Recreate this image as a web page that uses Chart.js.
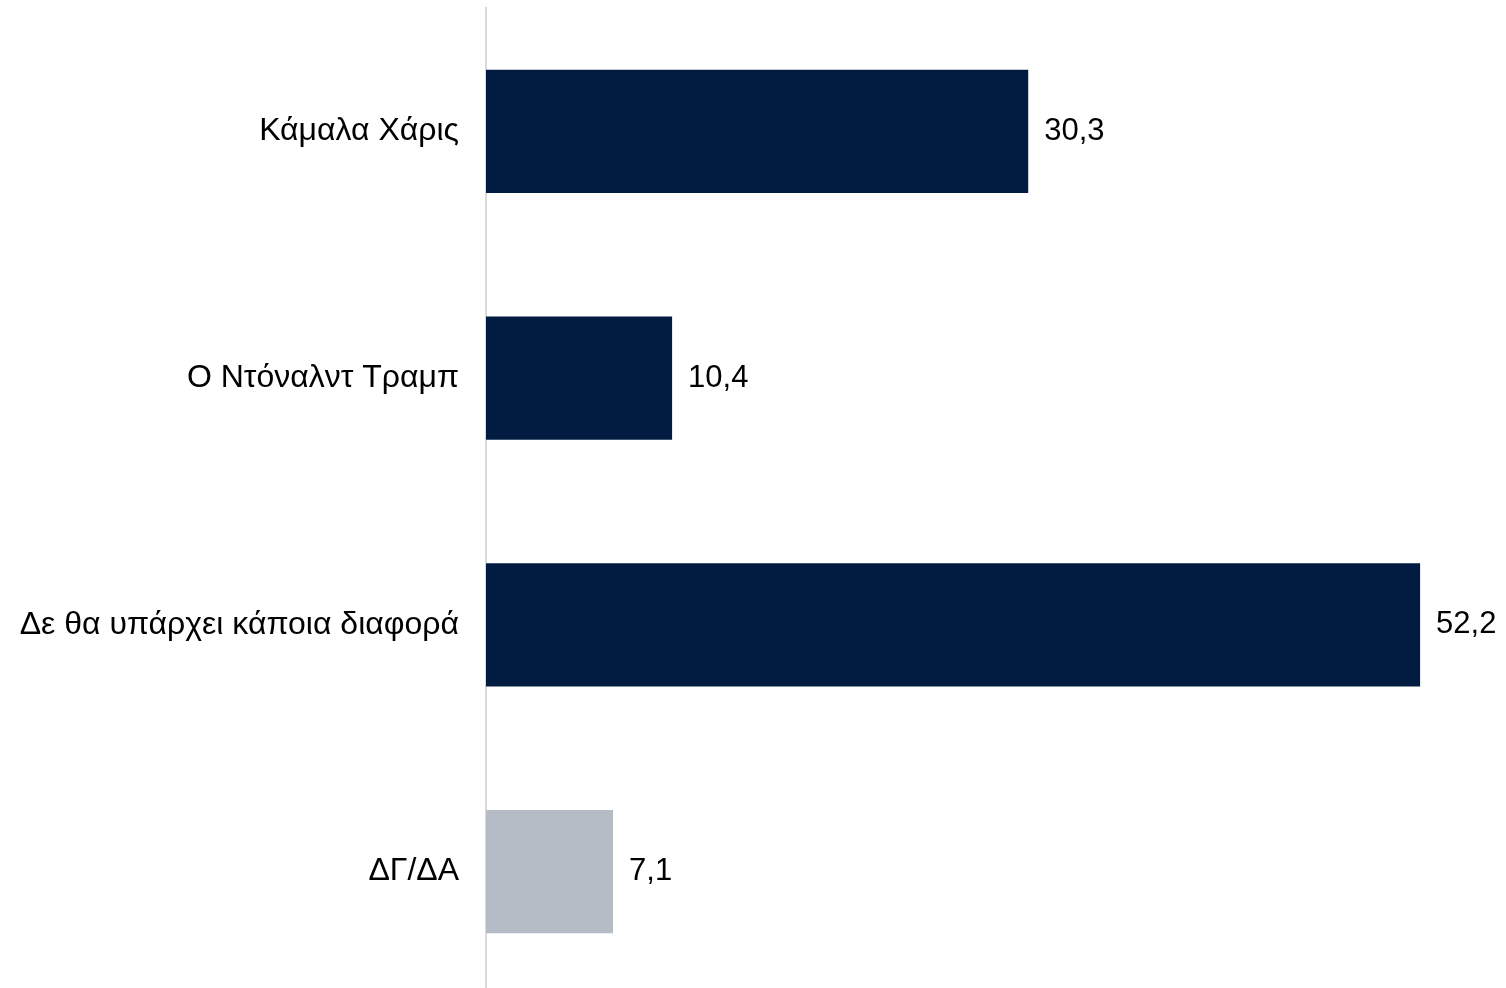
<!DOCTYPE html>
<html>
<head>
<meta charset="utf-8">
<script src="https://cdn.jsdelivr.net/npm/chart.js@4"></script>
<style>
  html, body { margin: 0; padding: 0; background: #ffffff; overflow: hidden; }
  #wrap { position: relative; width: 1506px; height: 995px; }
</style>
</head>
<body>
<div id="wrap"><canvas id="chart"></canvas></div>
<script>
// Δεδομένα γραφήματος
const categories = ["Κάμαλα Χάρις", "Ο Ντόναλντ Τραμπ", "Δε θα υπάρχει κάποια διαφορά", "ΔΓ/ΔΑ"];
const values = [30.3, 10.4, 52.2, 7.1];
const barColors = ["#011c40", "#011c40", "#011c40", "#b6bcc6"];

const FONT = "'Liberation Sans', Arial, sans-serif";

// Popisky hodnot na konci sloupců
const valueLabels = {
  id: "valueLabels",
  afterDatasetsDraw(chart) {
    const ctx = chart.ctx;
    const meta = chart.getDatasetMeta(0);
    ctx.save();
    ctx.font = "31px " + FONT;
    ctx.fillStyle = "#000000";
    ctx.textAlign = "left";
    ctx.textBaseline = "middle";
    meta.data.forEach((bar, i) => {
      const txt = values[i].toFixed(1).replace(".", ",");
      ctx.fillText(txt, bar.x + 16, bar.y);
    });
    ctx.restore();
  }
};

new Chart(document.getElementById("chart"), {
  type: "bar",
  data: {
    labels: categories,
    datasets: [{
      data: values,
      backgroundColor: barColors,
      barPercentage: 0.5,
      categoryPercentage: 1.0,
      borderWidth: 0
    }]
  },
  options: {
    indexAxis: "y",
    responsive: true,
    maintainAspectRatio: false,
    animation: false,
    layout: { padding: { top: 8, right: 0, bottom: 0, left: 0 } },
    plugins: {
      legend: { display: false },
      tooltip: { enabled: false }
    },
    scales: {
      x: {
        min: 0,
        max: 57,
        display: false
      },
      y: {
        afterFit(scale) {
          scale.width = 486;
          scale.paddingTop = 0;
          scale.paddingBottom = 0;
        },
        grid: { display: false, drawTicks: false },
        border: { display: true, color: "#d9d9d9", width: 2 },
        ticks: {
          color: "#000000",
          padding: 27,
          font: { family: FONT, size: 32 }
        }
      }
    }
  },
  plugins: [valueLabels]
});
</script>
</body>
</html>
